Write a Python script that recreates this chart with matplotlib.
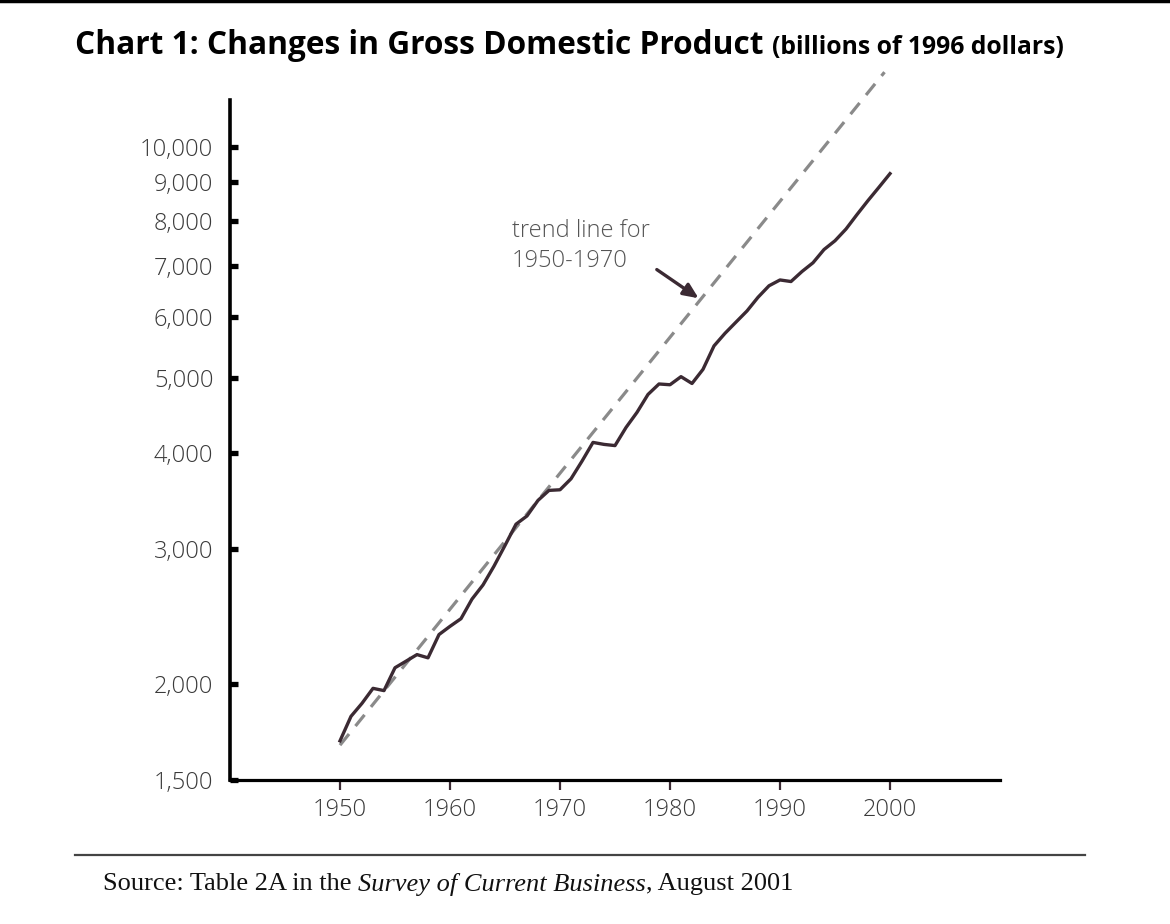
import matplotlib
matplotlib.use("Agg")
import matplotlib.pyplot as plt
from matplotlib.lines import Line2D
from matplotlib.ticker import FixedLocator, NullLocator

# real GDP, billions of chained 1996 dollars
years = list(range(1950, 2001))
gdp = [1686.6, 1815.1, 1887.3, 1973.9, 1960.5, 2099.5, 2141.1, 2183.9, 2162.8, 2319.0,
       2376.7, 2432.0, 2578.9, 2690.4, 2846.5, 3028.5, 3227.5, 3308.3, 3466.1, 3571.4,
       3578.0, 3697.7, 3898.4, 4123.4, 4099.0, 4084.4, 4311.7, 4511.8, 4760.6, 4912.1,
       4900.9, 5021.0, 4919.3, 5132.3, 5505.2, 5717.1, 5912.4, 6113.3, 6368.4, 6591.8,
       6707.9, 6676.4, 6880.0, 7062.6, 7347.7, 7543.8, 7813.2, 8159.5, 8508.9, 8856.5,
       9224.0]

# trend line for 1950-1970, extended
trend_years = [1950, 1999.5]
trend_values = [1665, 12500]

y_ticks = [1500, 2000, 3000, 4000, 5000, 6000, 7000, 8000, 9000, 10000]
x_ticks = [1950, 1960, 1970, 1980, 1990, 2000]

line_color = "#3b2a33"
label_font = "Open Sans"

fig = plt.figure(figsize=(11.7, 9.24), dpi=100)
W, H = 1170, 924
ax = fig.add_axes([230 / W, 1 - 780 / H, (1000 - 230) / W, (780 - 100) / H])

ax.plot(years, gdp, color=line_color, lw=2.4, solid_joinstyle="round", zorder=3)
ax.plot(trend_years, trend_values, color="#8a8a8a", lw=2.3, dashes=(4.5, 3.2),
        clip_on=False, zorder=2)

ax.set_yscale("log")
ax.set_ylim(1500, 11500)
ax.set_xlim(1940, 2010)
ax.yaxis.set_major_locator(FixedLocator(y_ticks))
ax.yaxis.set_minor_locator(NullLocator())
ax.set_yticklabels([f"{v:,}" for v in y_ticks])
ax.set_xticks(x_ticks)
ax.set_xticklabels([str(v) for v in x_ticks])

for s in ["top", "right"]:
    ax.spines[s].set_visible(False)
ax.spines["left"].set_linewidth(2.6)
ax.spines["bottom"].set_linewidth(2.3)
ax.spines["left"].set_color("black")
ax.spines["bottom"].set_color("black")

ax.tick_params(axis="y", direction="in", length=6, width=3.8, color="black",
               pad=12, labelsize=17, labelcolor="#3a3a3a")
ax.tick_params(axis="x", direction="out", length=7, width=1.6, color=line_color,
               pad=6, labelsize=17, labelcolor="#3a3a3a")
for lab in ax.get_xticklabels() + ax.get_yticklabels():
    lab.set_fontfamily(label_font)
    lab.set_fontweight("light")

ax.text(1965.6, 8050, "trend line for\n1950-1970", ha="left", va="top",
        fontsize=17, color="#555555", family=label_font, fontweight="light",
        linespacing=1.35)
ax.annotate("", xy=(1982.6, 6350), xytext=(1978.8, 6920),
            arrowprops=dict(arrowstyle="-|>,head_length=0.9,head_width=0.4",
                            color=line_color, lw=2.4, shrinkA=0, shrinkB=0))

# title
fig.text(75 / W, 1 - 45 / H, "Chart 1: Changes in Gross Domestic Product",
         ha="left", va="center", fontsize=22.8, fontweight="bold",
         family=label_font, color="black")
renderer = fig.canvas.get_renderer()
t1 = fig.texts[-1]
bb = t1.get_window_extent(renderer)
fig.text((bb.x1 + 8) / W, 1 - 47 / H, "(billions of 1996 dollars)",
         ha="left", va="center", fontsize=17.8, fontweight="bold",
         family=label_font, color="black")

# frame lines
fig.add_artist(Line2D([0, 1], [1 - 1 / H, 1 - 1 / H], color="black", lw=2.5))
fig.add_artist(Line2D([75 / W, 1085 / W], [1 - 855 / H, 1 - 855 / H],
                      color="#444444", lw=1.6))

# source line, built from pieces
pieces = [("Source: Table 2A in the ", "normal"),
          ("Survey of Current Business", "italic"),
          (", August 2001", "normal")]
x = 103
for txt, style in pieces:
    t = fig.text(x / W, 1 - 884 / H, txt, ha="left", va="center",
                 fontsize=19, family="Liberation Serif", style=style, color="#111111")
    x = t.get_window_extent(renderer).x1

fig.savefig("out.png", dpi=100)
